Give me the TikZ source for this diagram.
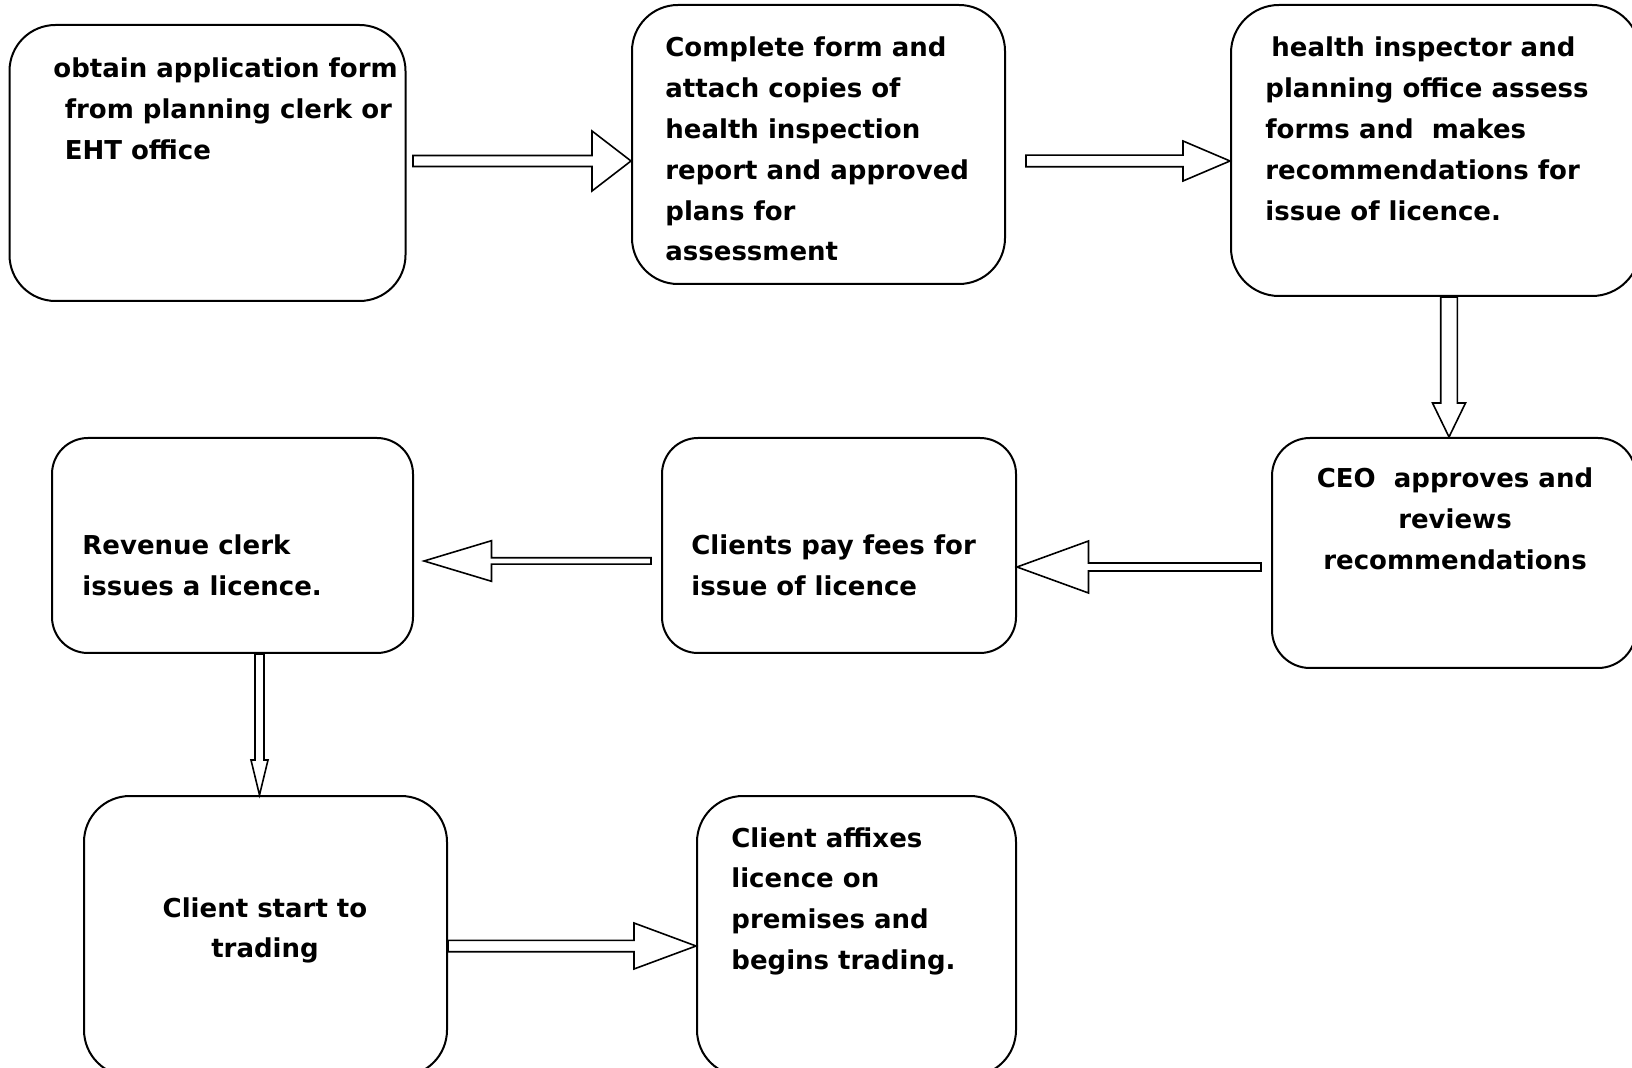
\documentclass[tikz,border=0pt]{standalone}
\usepackage{fontspec}
\setmainfont{DejaVu Sans}
\usetikzlibrary{calc}
\tikzset{
  stepbox/.style={draw, line width=1pt, rounded corners=#1, inner sep=0pt},
  stepbox/.default=23pt,
  steptext/.style={font=\fontsize{13pt}{20.4pt}\selectfont\bfseries, align=left, inner sep=0pt, anchor=base west},
  blockarrow/.style={draw, line width=0.8pt, fill=white, line join=miter}
}
\newcommand\harrow[5]{\draw[blockarrow] let \p1=(#1), \p2=(#2), \p3=($(\x2,\y1)!#5!(\x1,\y1)$) in
  (\x1,\y1+#3) -- (\x3,\y1+#3) -- (\x3,\y1+#4) -- (\x2,\y1) -- (\x3,\y1-#4) -- (\x3,\y1-#3) -- (\x1,\y1-#3) -- cycle;}
\newcommand\varrow[5]{\draw[blockarrow] let \p1=(#1), \p2=(#2), \p3=($(\x1,\y2)!#5!(\x1,\y1)$) in
  (\x1+#3,\y1) -- (\x1+#3,\y3) -- (\x1+#4,\y3) -- (\x1,\y2) -- (\x1-#4,\y3) -- (\x1-#3,\y3) -- (\x1-#3,\y1) -- cycle;}

\begin{document}
\begin{tikzpicture}[x=0.5pt, y=-0.5pt]
    \useasboundingbox (0,0) rectangle (1632,1068);
    \clip (0,0) rectangle (1632,1068);
    \node[stepbox, minimum width=198pt, minimum height=138pt] (obtain) at (207.5,163) {};
    \node[stepbox, minimum width=186.5pt, minimum height=139.5pt] (complete) at (818.5,144.5) {};
    \node[stepbox=24pt, minimum width=204.5pt, minimum height=145.5pt] (assess) at (1435.5,150.5) {};
    \node[stepbox=19pt, minimum width=182pt, minimum height=115pt] (ceo) at (1454,553) {};
    \node[stepbox=18pt, minimum width=177pt, minimum height=107.5pt] (pay) at (839,545.5) {};
    \node[stepbox=18pt, minimum width=180.5pt, minimum height=107.5pt] (revenue) at (232.5,545.5) {};
    \node[stepbox, minimum width=181.5pt, minimum height=140pt] (start) at (265.5,936) {};
    \node[stepbox, minimum width=159.5pt, minimum height=140pt] (affix) at (856.5,936) {};

    \node[steptext] (obtaintext) at (53,159.6) {obtain application form\\\hspace*{5.7pt}from planning clerk or\\\hspace*{5.7pt}EHT office};
    \node[steptext] (completetext) at (665,261) {Complete form and\\attach copies of\\health inspection\\report and approved\\plans for\\assessment};
    \node[steptext] (assesstext) at (1265,220.2) {\hspace*{3pt}health inspector and\\planning office assess\\forms and\ \ makes\\recommendations for\\issue of licence.};
    \node[steptext, align=center, anchor=base] (ceotext) at (1455,569.6) {CEO\ \ approves and\\reviews\\recommendations};
    \node[steptext] (paytext) at (691,595.3) {Clients pay fees for\\issue of licence};
    \node[steptext] (revenuetext) at (82,595.3) {Revenue clerk\\issues a licence.};
    \node[steptext, align=center, anchor=base] (starttext) at (265,957.8) {Client start to\\trading};
    \node[steptext] (affixtext) at (731,969.4) {Client affixes\\licence on\\premises and\\begins trading.};

    \harrow{[shift={(3.25pt,1pt)}]obtain.east}{complete.west}{2.75pt}{15pt}{19.5pt}
    \harrow{[shift={(10pt,-8.25pt)}]complete.east}{assess.west}{2.9pt}{10pt}{23.5pt}
    \varrow{[xshift=6.75pt]assess.south}{ceo.north}{4.15pt}{8.25pt}{17pt}
    \harrow{[shift={(-5pt,-7pt)}]ceo.west}{pay.east}{2pt}{13pt}{35.75pt}
    \harrow{[shift={(-5pt,-7.75pt)}]pay.west}{[xshift=5pt]revenue.east}{1.6pt}{10.15pt}{33.75pt}
    \varrow{[xshift=13.5pt]revenue.south}{start.north}{2.25pt}{4.25pt}{17.5pt}
    \harrow{[yshift=-5pt]start.east}{affix.west}{2.85pt}{11.5pt}{31pt}
\end{tikzpicture}
\end{document}
